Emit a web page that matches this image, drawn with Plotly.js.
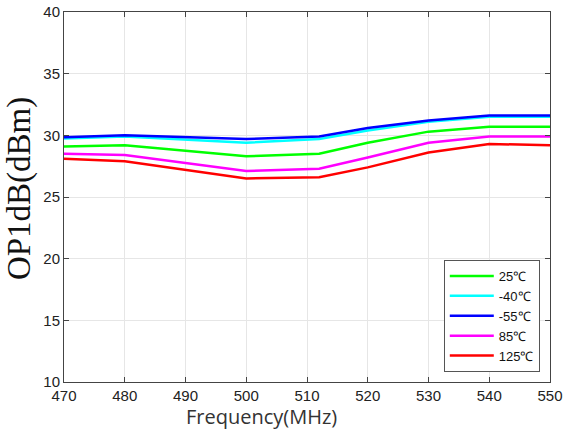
<!DOCTYPE html>
<html>
<head>
<meta charset="utf-8">
<script src="https://cdn.plot.ly/plotly-3.0.1.min.js"></script>
<style>html,body{margin:0;padding:0;background:#fff;}#chart{width:564px;height:435px;}</style>
</head>
<body>
<div id="chart"></div>
<script>
const freq = [470, 480, 500, 512, 520, 530, 540, 550];
const op25 = [29.1, 29.2, 28.3, 28.5, 29.4, 30.3, 30.7, 30.7];
const opM40 = [29.75, 29.9, 29.4, 29.7, 30.4, 31.1, 31.5, 31.5];
const opM55 = [29.85, 30.0, 29.7, 29.9, 30.6, 31.2, 31.6, 31.6];
const op85 = [28.5, 28.4, 27.1, 27.3, 28.2, 29.4, 29.9, 29.9];
const op125 = [28.1, 27.9, 26.5, 26.6, 27.4, 28.6, 29.3, 29.2];
const names = ['25℃', '-40℃', '-55℃', '85℃', '125℃'];
const colors = ['#00ff00', '#00ffff', '#0000ff', '#ff00ff', '#ff0000'];
const series = [op25, opM40, opM55, op85, op125];
const xTitle = 'Frequency(MHz)';
const yTitle = 'OP1dB(dBm)';

const traces = series.map((ys, i) => ({
  x: freq, y: ys, type: 'scatter', mode: 'lines', name: names[i],
  line: {color: colors[i], width: 2.5}
}));

const layout = {
  width: 564, height: 435,
  margin: {l: 64, r: 14, t: 12, b: 53},
  paper_bgcolor: '#fff', plot_bgcolor: '#fff',
  font: {family: 'Liberation Sans, Arial, sans-serif', color: '#222', size: 14},
  xaxis: {
    range: [470, 550], dtick: 10, tick0: 470,
    showgrid: true, gridcolor: '#e6e6e6', gridwidth: 1,
    zeroline: false, showline: true, linecolor: '#444', linewidth: 1, mirror: 'ticks',
    ticks: 'inside', ticklen: 5, tickcolor: '#444',
    tickfont: {size: 15, color: '#222'}
  },
  yaxis: {
    range: [10, 40], dtick: 5,
    showgrid: true, gridcolor: '#e6e6e6', gridwidth: 1,
    zeroline: false, showline: true, linecolor: '#444', linewidth: 1, mirror: 'ticks',
    ticks: 'inside', ticklen: 5, tickcolor: '#444',
    tickfont: {size: 15, color: '#222'}
  },
  annotations: [
    {text: xTitle, xref: 'paper', yref: 'paper', x: 0.407, y: -0.092, xanchor: 'center', yanchor: 'middle',
     showarrow: false, font: {size: 20, color: '#333', family: 'Open Sans, Liberation Sans, sans-serif'}},
    {text: yTitle, xref: 'paper', yref: 'paper', x: -0.09, y: 0.522, xanchor: 'center', yanchor: 'middle',
     textangle: -90, showarrow: false, font: {size: 33, color: '#111', family: 'Liberation Serif, Times New Roman, serif'}}
  ],
  legend: {
    x: 0.979, xanchor: 'right', y: 0.027, yanchor: 'bottom',
    bgcolor: '#fff', bordercolor: '#555', borderwidth: 1,
    font: {size: 13, color: '#111'},
    tracegroupgap: 0, itemwidth: 44
  },
  showlegend: true
};

Plotly.newPlot('chart', traces, layout, {displayModeBar: false, staticPlot: true});
</script>
</body>
</html>
